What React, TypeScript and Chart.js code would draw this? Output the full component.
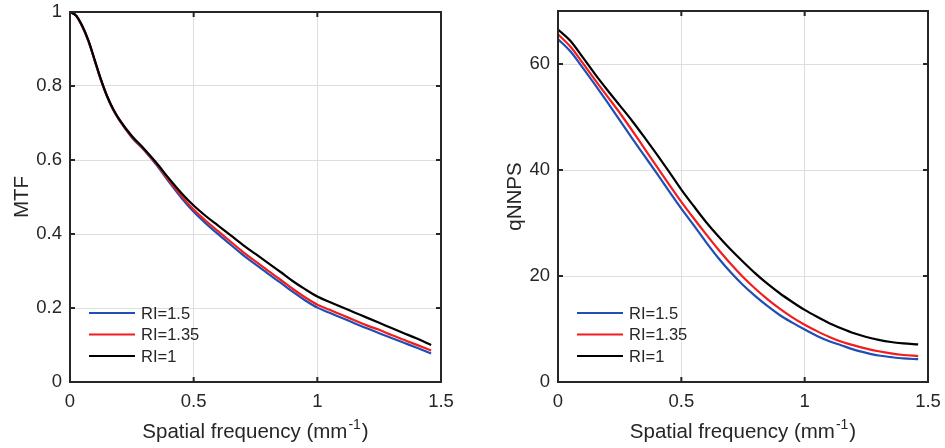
import React, { useEffect, useRef } from "react";
import { Chart, registerables } from "chart.js";

Chart.register(...registerables);

// ---------- data ----------
const mtfFreq = [0, 0.025, 0.05, 0.075, 0.1, 0.125, 0.15, 0.175, 0.2, 0.25, 0.3, 0.35, 0.4, 0.45, 0.5, 0.55, 0.6, 0.65, 0.7, 0.75, 0.8, 0.85, 0.9, 0.95, 1.0, 1.05, 1.1, 1.15, 1.2, 1.25, 1.3, 1.35, 1.4, 1.46];
const mtfRI15 = [1.0, 0.99, 0.96, 0.92, 0.868, 0.816, 0.771, 0.735, 0.707, 0.661, 0.626, 0.586, 0.541, 0.498, 0.46, 0.428, 0.399, 0.371, 0.343, 0.318, 0.293, 0.269, 0.244, 0.221, 0.201, 0.187, 0.173, 0.159, 0.145, 0.132, 0.119, 0.106, 0.093, 0.077];
const mtfRI135 = [1.0, 0.99, 0.961, 0.921, 0.869, 0.817, 0.772, 0.736, 0.708, 0.663, 0.628, 0.589, 0.545, 0.503, 0.466, 0.435, 0.407, 0.379, 0.351, 0.326, 0.301, 0.277, 0.252, 0.229, 0.209, 0.195, 0.181, 0.167, 0.153, 0.141, 0.127, 0.114, 0.101, 0.085];
const mtfRI1 = [1.0, 0.99, 0.962, 0.922, 0.87, 0.818, 0.773, 0.737, 0.709, 0.665, 0.63, 0.592, 0.55, 0.511, 0.477, 0.448, 0.422, 0.396, 0.37, 0.346, 0.322, 0.298, 0.273, 0.251, 0.231, 0.216, 0.202, 0.188, 0.174, 0.16, 0.146, 0.132, 0.118, 0.1];

const nnpsFreq = [0, 0.05, 0.1, 0.15, 0.2, 0.25, 0.3, 0.35, 0.4, 0.45, 0.5, 0.55, 0.6, 0.65, 0.7, 0.75, 0.8, 0.85, 0.9, 0.95, 1.0, 1.05, 1.1, 1.15, 1.2, 1.25, 1.3, 1.35, 1.4, 1.46];
const nnpsRI15 = [64.7, 62.4, 59.3, 56.1, 52.8, 49.4, 46.0, 42.7, 39.4, 36.0, 32.7, 29.6, 26.4, 23.4, 20.7, 18.3, 16.2, 14.3, 12.6, 11.2, 9.9, 8.7, 7.7, 6.9, 6.1, 5.5, 5.0, 4.7, 4.45, 4.3];
const nnpsRI135 = [65.6, 63.3, 60.2, 57.0, 53.9, 50.8, 47.5, 44.1, 40.7, 37.3, 34.0, 30.9, 27.9, 25.0, 22.3, 19.8, 17.6, 15.6, 13.8, 12.2, 10.8, 9.6, 8.5, 7.6, 6.9, 6.3, 5.8, 5.4, 5.1, 4.9];
const nnpsRI1 = [66.5, 64.4, 61.3, 58.1, 55.1, 52.2, 49.3, 46.2, 43.0, 39.7, 36.3, 33.2, 30.2, 27.5, 25.0, 22.7, 20.5, 18.5, 16.7, 15.1, 13.6, 12.3, 11.1, 10.1, 9.2, 8.5, 7.95, 7.55, 7.3, 7.1];

const seriesLabels = ["RI=1.5", "RI=1.35", "RI=1"];
const freqTicks = [0, 0.5, 1, 1.5];
const mtfTicks = [0, 0.2, 0.4, 0.6, 0.8, 1];
const nnpsTicks = [0, 20, 40, 60];

// ---------- styles ----------
const FONT = '"Liberation Sans", Arial, Helvetica, sans-serif';
const AXIS_COLOR = "#262626";
const GRID_COLOR = "#dedede";
const COLORS = ["#1f4fb5", "#f21d1d", "#000000"];

const fmt = (v: number) => String(Math.round(v * 100) / 100);

const matlabPlugin = {
  id: "matlabAxes",
  afterDatasetsDraw(chart: any, _args: any, opts: any) {
    const { ctx, chartArea: a, scales } = chart;
    ctx.save();
    // box
    ctx.strokeStyle = AXIS_COLOR;
    ctx.lineWidth = 2;
    ctx.strokeRect(a.left, a.top, a.right - a.left, a.bottom - a.top);
    // inward ticks on all sides
    const L = 5;
    ctx.beginPath();
    for (const v of opts.xTicks) {
      const px = scales.x.getPixelForValue(v);
      ctx.moveTo(px, a.bottom);
      ctx.lineTo(px, a.bottom - L);
      ctx.moveTo(px, a.top);
      ctx.lineTo(px, a.top + L);
    }
    for (const v of opts.yTicks) {
      const py = scales.y.getPixelForValue(v);
      ctx.moveTo(a.left, py);
      ctx.lineTo(a.left + L, py);
      ctx.moveTo(a.right, py);
      ctx.lineTo(a.right - L, py);
    }
    ctx.stroke();

    // legend (inside, bottom-left, no box)
    const ds = chart.data.datasets.slice().reverse();
    ctx.font = `16.5px ${FONT}`;
    ctx.textBaseline = "middle";
    ctx.textAlign = "left";
    ds.forEach((d: any, i: number) => {
      const y = a.bottom - 69 + i * 21.5;
      ctx.strokeStyle = d.borderColor;
      ctx.lineWidth = 2.2;
      ctx.beginPath();
      ctx.moveTo(a.left + 19, y);
      ctx.lineTo(a.left + 65, y);
      ctx.stroke();
      ctx.fillStyle = AXIS_COLOR;
      ctx.fillText(d.label, a.left + 71, y + 1);
    });

    // x title with superscript
    const main = "Spatial frequency (mm";
    const sup = "-1";
    const end = ")";
    const mainFont = `20.5px ${FONT}`;
    const supFont = `14px ${FONT}`;
    ctx.font = mainFont;
    const w1 = ctx.measureText(main).width;
    const w3 = ctx.measureText(end).width;
    ctx.font = supFont;
    const w2 = ctx.measureText(sup).width;
    const total = w1 + w2 + w3 + 2;
    const x0 = (a.left + a.right) / 2 - total / 2;
    const base = a.bottom + 56;
    ctx.textBaseline = "alphabetic";
    ctx.fillStyle = AXIS_COLOR;
    ctx.font = mainFont;
    ctx.fillText(main, x0, base);
    ctx.font = supFont;
    ctx.fillText(sup, x0 + w1 + 1, base - 9);
    ctx.font = mainFont;
    ctx.fillText(end, x0 + w1 + w2 + 2, base);

    // y title
    ctx.save();
    ctx.translate(a.left - opts.yTitleOffset, (a.top + a.bottom) / 2);
    ctx.rotate(-Math.PI / 2);
    ctx.textAlign = "center";
    ctx.textBaseline = "middle";
    ctx.font = mainFont;
    ctx.fillText(opts.yTitle, 0, 0);
    ctx.restore();

    ctx.restore();
  },
};

function makeConfig(p: {
  freq: number[];
  series: number[][];
  yMax: number;
  yStep: number;
  yTicks: number[];
  yWidth: number;
  padTop: number;
  padRight: number;
  yTitle: string;
  yTitleOffset: number;
}) {
  const order = [2, 1, 0]; // draw black on top
  const datasets = order.map((i) => ({
    label: seriesLabels[i],
    data: p.freq.map((x, k) => ({ x, y: p.series[i][k] })),
    borderColor: COLORS[i],
    backgroundColor: COLORS[i],
    borderWidth: 2.2,
    pointRadius: 0,
    fill: false,
    cubicInterpolationMode: "monotone" as const,
  }));
  const tickFont = { size: 18.5, family: FONT };
  return {
    type: "line" as const,
    data: { datasets },
    plugins: [matlabPlugin],
    options: {
      animation: false as const,
      responsive: false,
      maintainAspectRatio: false,
      layout: { padding: { top: p.padTop, right: p.padRight, left: 0, bottom: 0 } },
      plugins: {
        legend: { display: false },
        tooltip: { enabled: false },
        matlabAxes: { xTicks: freqTicks, yTicks: p.yTicks, yTitle: p.yTitle, yTitleOffset: p.yTitleOffset },
      },
      scales: {
        x: {
          type: "linear" as const,
          min: 0,
          max: 1.5,
          ticks: { stepSize: 0.5, padding: 9, color: AXIS_COLOR, font: tickFont, maxRotation: 0, autoSkip: false, callback: (v: any) => fmt(v) },
          grid: { color: GRID_COLOR, lineWidth: 1, drawTicks: false },
          border: { display: false },
          afterFit: (s: any) => {
            s.height = 66;
            s.paddingLeft = 0;
            s.paddingRight = 0;
          },
        },
        y: {
          type: "linear" as const,
          min: 0,
          max: p.yMax,
          ticks: { stepSize: p.yStep, padding: 8, color: AXIS_COLOR, font: tickFont, autoSkip: false, callback: (v: any) => fmt(v) },
          grid: { color: GRID_COLOR, lineWidth: 1, drawTicks: false },
          border: { display: false },
          afterBuildTicks: (s: any) => {
            s.ticks = s.ticks.filter((t: any) => p.yTicks.some((v) => Math.abs(v - t.value) < 1e-6));
          },
          afterFit: (s: any) => {
            s.width = p.yWidth;
            s.paddingTop = 0;
            s.paddingBottom = 0;
          },
        },
      },
    },
  };
}

function Panel({ left, cfg }: { left: number; cfg: any }) {
  const ref = useRef<HTMLCanvasElement>(null);
  useEffect(() => {
    const chart = new Chart(ref.current as HTMLCanvasElement, cfg);
    return () => chart.destroy();
  }, []);
  return (
    <canvas
      ref={ref}
      width={470}
      height={448}
      style={{ position: "absolute", left, top: 0, width: 470, height: 448 }}
    />
  );
}

export default function App() {
  const mtfCfg = makeConfig({
    freq: mtfFreq,
    series: [mtfRI15, mtfRI135, mtfRI1],
    yMax: 1,
    yStep: 0.2,
    yTicks: mtfTicks,
    yWidth: 70,
    padTop: 12,
    padRight: 29,
    yTitle: "MTF",
    yTitleOffset: 48,
  });
  const nnpsCfg = makeConfig({
    freq: nnpsFreq,
    series: [nnpsRI15, nnpsRI135, nnpsRI1],
    yMax: 70,
    yStep: 20,
    yTicks: nnpsTicks,
    yWidth: 83,
    padTop: 11,
    padRight: 17,
    yTitle: "qNNPS",
    yTitleOffset: 43,
  });
  return (
    <div style={{ position: "absolute", left: 0, top: 0, width: 945, height: 448, background: "#fff", overflow: "hidden" }}>
      <Panel left={0} cfg={mtfCfg} />
      <Panel left={475} cfg={nnpsCfg} />
    </div>
  );
}
